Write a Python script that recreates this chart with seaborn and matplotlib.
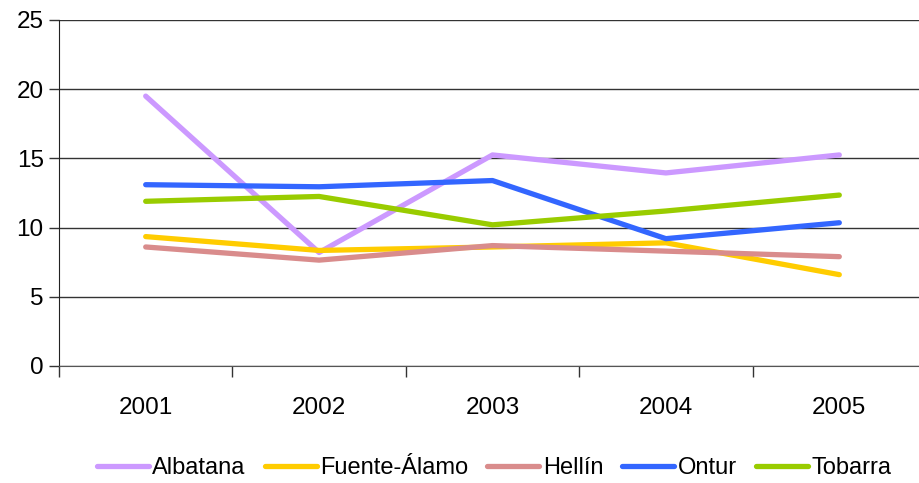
import matplotlib
matplotlib.use("Agg")
import matplotlib.pyplot as plt
from matplotlib.ticker import FixedLocator
import seaborn as sns
import pandas as pd

years = ["2001", "2002", "2003", "2004", "2005"]
albatana = [19.5, 8.2, 15.25, 13.95, 15.25]
fuente_alamo = [9.35, 8.35, 8.6, 8.9, 6.6]
hellin = [8.6, 7.65, 8.7, 8.3, 7.9]
ontur = [13.1, 12.95, 13.4, 9.2, 10.35]
tobarra = [11.9, 12.25, 10.2, 11.2, 12.35]

series = {
    "Albatana": albatana,
    "Fuente-Álamo": fuente_alamo,
    "Hellín": hellin,
    "Ontur": ontur,
    "Tobarra": tobarra,
}
colors = ["#CC99FF", "#FFCC00", "#D98C8C", "#3366FF", "#99CC00"]

rows = []
for name, vals in series.items():
    for i, v in enumerate(vals):
        rows.append({"pos": i, "year": years[i], "value": v, "serie": name})
df = pd.DataFrame(rows)

sns.set_style("white")
plt.rcParams["font.family"] = ["Liberation Sans", "DejaVu Sans"]
plt.rcParams["text.color"] = "black"

fig = plt.figure(figsize=(9.2, 4.83), dpi=100)
ax = fig.add_axes([59 / 920, 117 / 483, 867 / 920, 346 / 483])

sns.lineplot(data=df, x="pos", y="value", hue="serie", palette=colors,
             linewidth=3.8, ax=ax, legend=True, sort=False,
             solid_capstyle="round", solid_joinstyle="round")

ax.set_xlim(-0.5, 4.5)
ax.set_ylim(0, 25)
ax.set_yticks([0, 5, 10, 15, 20, 25])
ax.yaxis.grid(True, color="#333333", linewidth=1)
ax.set_axisbelow(True)
ax.tick_params(axis="y", length=7, width=1, color="#333333", labelsize=17.5,
               labelcolor="black", direction="out", left=True, pad=4)

ax.set_xticks(range(len(years)))
ax.set_xticklabels(years)
ax.tick_params(axis="x", which="major", length=0, labelsize=17.5,
               labelcolor="black", pad=22)
ax.xaxis.set_minor_locator(FixedLocator([-0.5, 0.5, 1.5, 2.5, 3.5]))
ax.tick_params(axis="x", which="minor", length=8, width=1, color="#333333",
               direction="out", bottom=True)

for s in ["top", "right"]:
    ax.spines[s].set_visible(False)
ax.spines["left"].set_color("#222222")
ax.spines["bottom"].set_color("#555555")
ax.set_xlabel("")
ax.set_ylabel("")

leg = ax.legend(loc="center", bbox_to_anchor=(494 / 920, 15 / 483),
                bbox_transform=fig.transFigure, ncol=5, frameon=False,
                fontsize=17, handlelength=2.2, handletextpad=0.15,
                columnspacing=0.8, borderaxespad=0, borderpad=0)
for h in leg.get_lines():
    h.set_linewidth(3.8)
    h.set_solid_capstyle("round")
for t in leg.get_texts():
    t.set_color("black")

fig.savefig("out.png", dpi=100)
